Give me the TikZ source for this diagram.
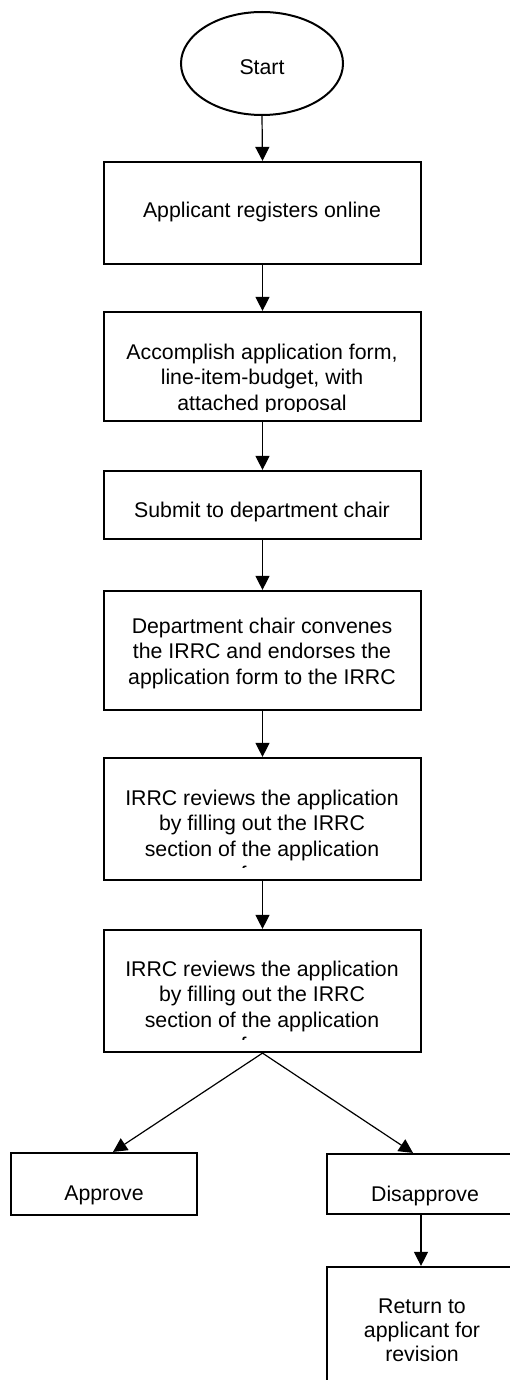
\documentclass[tikz,border=0pt]{standalone}
\usepackage{fontspec}
\setmainfont{Liberation Sans}
\usetikzlibrary{shapes.geometric,arrows.meta,calc}
% fixed height of the first text line, so that node tops fix the first baseline
\newcommand\firstline{\rule{0pt}{17pt}}
\begin{document}
\begin{tikzpicture}[x=1pt,y=-1pt,
  box/.style={draw, rectangle, line width=2.2pt, inner sep=0pt},
  txt/.style={inner sep=0pt, anchor=north, align=center,
              font=\fontsize{21.3}{25.5}\selectfont},
  conn/.style={line width=1.2pt, -{Triangle[length=14pt,width=14pt]}}]
\useasboundingbox (0,0) rectangle (510,1380);
\clip (0,0) rectangle (510,1380);

% terminator
\node[draw, ellipse, line width=2pt, minimum width=162pt, minimum height=103pt,
      inner sep=0pt] (st) at (262,63.5) {};
\node[txt] (tst) at (262,57) {\firstline Start};

% process boxes
\node[box, minimum width=317pt, minimum height=102pt] (b1) at (262.5,213) {};
\node[box, minimum width=317pt, minimum height=109pt] (b2) at (262.5,366.5) {};
\node[box, minimum width=317pt, minimum height=68pt]  (b3) at (262.5,505) {};
\node[box, minimum width=317pt, minimum height=119pt] (b4) at (262.5,650.5) {};
\node[box, minimum width=317pt, minimum height=122pt] (b5) at (262.5,819) {};
\node[box, minimum width=317pt, minimum height=122pt] (b6) at (262.5,991) {};
\node[box, minimum width=186pt, minimum height=62pt]  (ap) at (104,1184) {};
\node[box, minimum width=196pt, minimum height=60pt]  (dis) at (425,1184) {};
\node[box, minimum width=190pt, minimum height=133pt] (ret) at (422,1333.5) {};

% box texts
\node[txt] (t1) at (262,200) {\firstline Applicant registers online};
\begin{scope}
  \clip (106,314) rectangle (419,411);
  \node[txt] (t2) at (262,342) {\firstline Accomplish application form,\\
    line-item-budget, with\\attached proposal};
\end{scope}
\node[txt] (t3) at (262,500) {\firstline Submit to department chair};
\node[txt] (t4) at (262,616) {\firstline Department chair convenes\\
  the IRRC and endorses the\\application form to the IRRC};
\begin{scope}
  \clip (106,760) rectangle (419,867);
  \node[txt] (t5) at (262,788) {\firstline IRRC reviews the application\\
    by filling out the IRRC\\section of the application\\form};
\end{scope}
\begin{scope}
  \clip (106,932) rectangle (419,1039);
  \node[txt] (t6) at (262,959) {\firstline IRRC reviews the application\\
    by filling out the IRRC\\section of the application\\form};
\end{scope}
\node[txt] (tap) at (104,1183) {\firstline Approve};
\node[txt] (tdis) at (425,1184) {\firstline Disapprove};
\node[txt, font=\fontsize{21.3}{24}\selectfont] (tret) at (422,1296)
  {\firstline Return to\\applicant for\\revision};

% connectors
\draw[conn] (st.south) -- (b1.north);
\draw[conn] (b1.south) -- (b2.north);
\draw[conn] (b2.south) -- (b3.north);
\draw[conn] (b3.south) -- (b4.north);
\draw[conn] (b4.south) -- (b5.north);
\draw[conn] (b5.south) -- (b6.north);
\draw[conn] (b6.south) -- ([xshift=9pt]ap.north);
\draw[conn] (b6.south) -- ([xshift=-12pt]dis.north);
\draw[conn] ([xshift=-4pt]dis.south) -- ([xshift=-1pt]ret.north);
\end{tikzpicture}
\end{document}
